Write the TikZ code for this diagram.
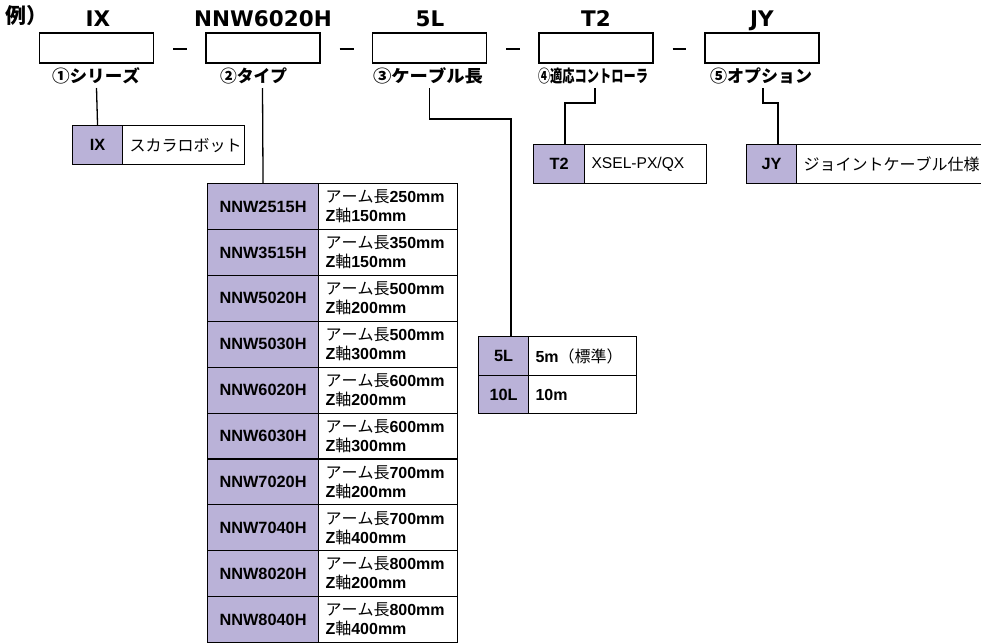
\documentclass[tikz,border=0pt]{standalone}
\usepackage{fontspec}
\usepackage{graphicx}
\setmainfont{Liberation Sans}
\newfontfamily\jp[Kerning=Off]{Noto Sans CJK JP}
\newfontfamily\hdfont{DejaVu Sans}
\definecolor{lav}{HTML}{BAB2D8}
\newcommand\J[1]{{\jp #1}}
\newcommand\fitw[2]{\resizebox{#1}{\height}{#2}}
\begin{document}
\begin{tikzpicture}[x=1pt,y=-1pt,
  hbox/.style={draw, line width=1.4pt, minimum width=114pt, minimum height=30pt, inner sep=0pt},
  htext/.style={font=\hdfont\bfseries\fontsize{21.5}{24}\selectfont, anchor=base, inner sep=0pt},
  hlabel/.style={font=\jp\bfseries\fontsize{17}{18}\selectfont, inner sep=0pt},
  conn/.style={line width=1.3pt},
  dashline/.style={line width=2pt},
  codecell/.style={draw, line width=1.1pt, fill=lav, anchor=north west, inner sep=0pt, font=\bfseries\fontsize{16.3}{19}\selectfont},
  desccell/.style={draw, line width=1.1pt, fill=white, anchor=north west, inner ysep=0pt, inner xsep=7pt, align=left, font=\fontsize{16}{19}\selectfont},
]
\useasboundingbox (0,0) rectangle (981,643);

% example prefix
\node[font=\jp\bfseries\fontsize{21}{24}\selectfont, anchor=base west, inner sep=0pt] (ex) at (5,23) {例）};

% header boxes
\node[hbox] (b1) at (96.5,48) {};
\node[hbox] (b2) at (263,48) {};
\node[hbox] (b3) at (429.5,48) {};
\node[hbox] (b4) at (596,48) {};
\node[hbox] (b5) at (762,48) {};

\node[htext] (t1) at (98,26) {IX};
\node[htext] (t2) at (263,26) {NNW6020H};
\node[htext] (t3) at (430,26) {5L};
\node[htext] (t4) at (596,26) {T2};
\node[htext] (t5) at (762,26) {JY};

\foreach \a/\b in {b1/b2,b2/b3,b3/b4,b4/b5}{
  \draw[dashline] ([xshift=19pt,yshift=-1pt]\a.east) -- ([xshift=-18pt,yshift=-1pt]\b.west);
}

\node[hlabel] (l1) at (96,76) {\fitw{88pt}{①シリーズ}};
\node[hlabel] (l2) at (253.5,76) {\fitw{67pt}{②タイプ}};
\node[hlabel] (l3) at (428,76) {\fitw{110pt}{③ケーブル長}};
\node[hlabel] (l4) at (593,76) {\fitw{110pt}{④適応コントローラ}};
\node[hlabel] (l5) at (761,76) {\fitw{102pt}{⑤オプション}};

% IX table
\node[codecell, minimum width=50pt, minimum height=39pt] (ixc) at (72,125) {IX};
\node[desccell, text width=108pt, minimum height=39pt] (ixd) at (122,125) {\J{スカラロボット}};

% T2 table
\node[codecell, minimum width=51pt, minimum height=39pt] (t2c) at (533,144) {T2};
\node[desccell, text width=108pt, inner xsep=7pt, minimum height=39pt, font=\fontsize{15.6}{19}\selectfont] (t2d) at (584,144) {XSEL-PX/QX};

% JY table
\node[codecell, minimum width=50pt, minimum height=39pt] (jyc) at (746,144) {JY};
\node[desccell, text width=186pt, minimum height=39pt] (jyd) at (796,144) {\J{ジョイントケーブル仕様}};

% 5L table
\node[codecell, minimum width=50pt, minimum height=39pt] (c5) at (478,336) {5L};
\node[desccell, text width=94pt, minimum height=39pt] (d5) at (528,336) {\textbf{5m}\J{（標準）}};
\node[codecell, minimum width=50pt, minimum height=38pt] (c10) at (478,375) {10L};
\node[desccell, text width=94pt, minimum height=38pt] (d10) at (528,375) {\textbf{10m}};

% NNW table
\foreach \c/\a/\z [count=\i from 0] in {2515H/250/150, 3515H/350/150, 5020H/500/200, 5030H/500/300, 6020H/600/200, 6030H/600/300, 7020H/700/200, 7040H/700/400, 8020H/800/200, 8040H/800/400}{
  \node[codecell, minimum width=111pt, minimum height=45.9pt] (nc\i) at (207,183+45.9*\i) {NNW\c};
  \node[desccell, text width=125pt, minimum height=45.9pt] (nd\i) at (318,183+45.9*\i) {\J{アーム長}\textbf{\a mm}\\\textbf{Z}\J{軸}\textbf{\z mm}};
}

% connectors
\coordinate (s1) at (96.5,88);
\coordinate (s2) at (262.5,88);
\coordinate (s3) at (429.5,88);
\coordinate (s4) at (595,88);
\coordinate (s5) at (763,88);
\coordinate (k3) at (511,119);
\coordinate (k4) at (565,103);
\coordinate (k5) at (778,103);

\draw[conn] (s1) -- (ixc.north);
\draw[conn] (s2) -- (nc0.north);
\draw[conn] (s3) |- (k3) -- (k3 |- c5.north);
\draw[conn] (s4) |- (k4) -- (k4 |- t2c.north);
\draw[conn] (s5) |- (k5) -- (k5 |- jyc.north);
\end{tikzpicture}
\end{document}
